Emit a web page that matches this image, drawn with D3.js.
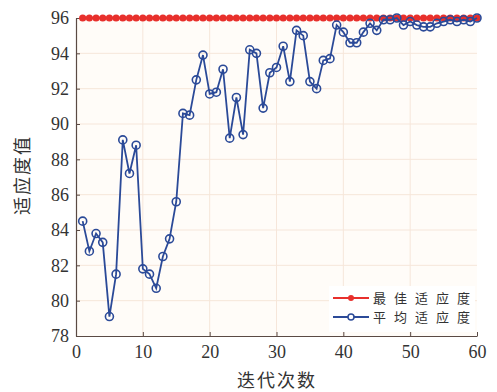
<!DOCTYPE html>
<html>
<head>
<meta charset="utf-8">
<script src="https://cdn.jsdelivr.net/npm/d3@7"></script>
<style>
  body { margin: 0; background: #fff; }
  .cn { font-family: "Noto Sans CJK SC", sans-serif; fill: #333; }
</style>
</head>
<body>
<div class="chart"></div>
<script>
// data
var generations = d3.range(1, 61);
var bestFitness = generations.map(function() { return 96; });
var avgFitness = [
  84.5, 82.8, 83.8, 83.3, 79.1, 81.5, 89.1, 87.2, 88.8, 81.8,
  81.5, 80.7, 82.5, 83.5, 85.6, 90.6, 90.5, 92.5, 93.9, 91.7,
  91.8, 93.1, 89.2, 91.5, 89.4, 94.2, 94.0, 90.9, 92.9, 93.2,
  94.4, 92.4, 95.3, 95.0, 92.4, 92.0, 93.6, 93.7, 95.6, 95.2,
  94.6, 94.6, 95.2, 95.7, 95.3, 95.9, 95.9, 96.0, 95.6, 95.8,
  95.6, 95.5, 95.5, 95.7, 95.8, 95.9, 95.8, 95.9, 95.8, 96.0
];
var xTicks = [0, 10, 20, 30, 40, 50, 60];
var yTicks = [78, 80, 82, 84, 86, 88, 90, 92, 94, 96];
var seriesNames = ["最佳适应度", "平均适应度"];

var svgWidth = 497;
var svgHeight = 392;
var margin = { top: 18, right: 20, bottom: 56, left: 76 };
var width = 477 - margin.left;
var height = 336 - margin.top;

var svg = d3.select(".chart")
  .append("svg")
  .attr("width", svgWidth)
  .attr("height", svgHeight);

var chartGroup = svg.append("g")
  .attr("transform", `translate(${margin.left}, ${margin.top})`);

var xScale = d3.scaleLinear().domain([0, 60]).range([0, width]);
var yScale = d3.scaleLinear().domain([78, 96]).range([height, 0]);

// plot background
chartGroup.append("rect")
  .attr("width", width)
  .attr("height", height)
  .attr("fill", "#fffcf8");

// grid
chartGroup.selectAll(".vgrid")
  .data(xTicks.slice(1, -1))
  .enter()
  .append("line")
  .attr("x1", d => xScale(d)).attr("x2", d => xScale(d))
  .attr("y1", 0).attr("y2", height)
  .attr("stroke", "#f6e6da").attr("stroke-width", 1);

chartGroup.selectAll(".hgrid")
  .data(yTicks.slice(1, -1))
  .enter()
  .append("line")
  .attr("x1", 0).attr("x2", width)
  .attr("y1", d => yScale(d)).attr("y2", d => yScale(d))
  .attr("stroke", "#f6e6da").attr("stroke-width", 1);

// axes
var bottomAxis = d3.axisBottom(xScale).tickValues(xTicks).tickSizeInner(-4).tickSizeOuter(0).tickPadding(9);
var leftAxis = d3.axisLeft(yScale).tickValues(yTicks).tickSizeInner(-4).tickSizeOuter(0).tickPadding(7);

var xAxisG = chartGroup.append("g")
  .attr("transform", `translate(0, ${height})`)
  .call(bottomAxis);
var yAxisG = chartGroup.append("g")
  .call(leftAxis);

[xAxisG, yAxisG].forEach(function(g) {
  g.attr("font-family", "Times New Roman, Liberation Serif, serif")
    .attr("font-size", 18);
  g.select(".domain").attr("stroke", "#5a4a44").attr("stroke-width", 1.2);
  g.selectAll(".tick line").attr("stroke", "#5a4a44");
  g.selectAll(".tick text").attr("fill", "#333");
});

// best fitness line
var line = d3.line()
  .x((d, i) => xScale(generations[i]))
  .y(d => yScale(d));

chartGroup.append("path")
  .datum(bestFitness)
  .attr("fill", "none")
  .attr("stroke", "#e8302c")
  .attr("stroke-width", 1.8)
  .attr("d", line);

chartGroup.selectAll(".best")
  .data(bestFitness)
  .enter()
  .append("circle")
  .attr("cx", (d, i) => xScale(generations[i]))
  .attr("cy", d => yScale(d))
  .attr("r", 3.6)
  .attr("fill", "#e8302c");

// average fitness line
chartGroup.append("path")
  .datum(avgFitness)
  .attr("fill", "none")
  .attr("stroke", "#2b4a98")
  .attr("stroke-width", 1.8)
  .attr("d", line);

chartGroup.selectAll(".avg")
  .data(avgFitness)
  .enter()
  .append("circle")
  .attr("cx", (d, i) => xScale(generations[i]))
  .attr("cy", d => yScale(d))
  .attr("r", 4)
  .attr("fill", "none")
  .attr("stroke", "#2b4a98")
  .attr("stroke-width", 1.6);

// legend
var legend = chartGroup.append("g")
  .attr("transform", `translate(${width - 148}, ${height - 50})`);

legend.append("rect")
  .attr("width", 146)
  .attr("height", 46)
  .attr("fill", "#ffffff");

var legendColors = ["#e8302c", "#2b4a98"];
seriesNames.forEach(function(name, i) {
  var y = 12 + i * 19;
  legend.append("line")
    .attr("x1", 4).attr("x2", 40)
    .attr("y1", y).attr("y2", y)
    .attr("stroke", legendColors[i]).attr("stroke-width", 1.8);
  if (i === 0) {
    legend.append("circle").attr("cx", 22).attr("cy", y).attr("r", 3).attr("fill", legendColors[i]);
  } else {
    legend.append("circle").attr("cx", 22).attr("cy", y).attr("r", 3)
      .attr("fill", "#fff").attr("stroke", legendColors[i]).attr("stroke-width", 1.5);
  }
  legend.append("text")
    .attr("class", "cn")
    .attr("x", 44)
    .attr("y", y + 5)
    .attr("font-size", 13)
    .attr("letter-spacing", 8)
    .text(name);
});

// axis labels
svg.append("text")
  .attr("class", "cn")
  .attr("transform", "translate(29, 175) rotate(-90)")
  .attr("text-anchor", "middle")
  .attr("font-size", 18)
  .attr("letter-spacing", 2)
  .text("适应度值");

svg.append("text")
  .attr("class", "cn")
  .attr("x", 277)
  .attr("y", 387)
  .attr("text-anchor", "middle")
  .attr("font-size", 18)
  .attr("letter-spacing", 2)
  .text("迭代次数");
</script>
</body>
</html>
